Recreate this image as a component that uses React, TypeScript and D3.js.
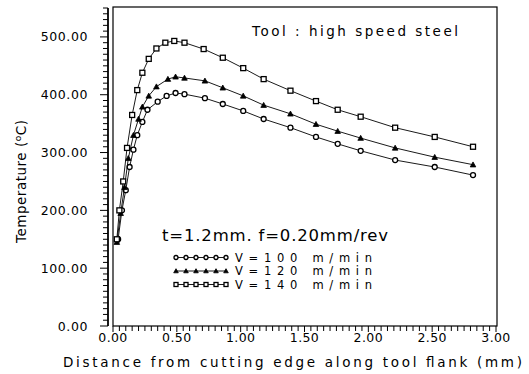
import React from "react";
import * as d3 from "d3";

const W = 529;
const H = 374;

// Data
const xV100 = [0.04, 0.07, 0.10, 0.13, 0.16, 0.19, 0.23, 0.27, 0.35, 0.42, 0.49, 0.56, 0.72, 0.86, 1.02, 1.18, 1.39, 1.59, 1.76, 1.94, 2.21, 2.52, 2.82];
const yV100 = [150, 200, 235, 275, 305, 330, 353, 374, 388, 398, 403, 401, 394, 384, 372, 358, 343, 327, 315, 303, 287, 275, 261];

const xV120 = [0.03, 0.06, 0.09, 0.12, 0.16, 0.20, 0.23, 0.28, 0.34, 0.43, 0.49, 0.56, 0.72, 0.86, 1.02, 1.18, 1.39, 1.59, 1.76, 1.94, 2.21, 2.52, 2.82];
const yV120 = [145, 195, 240, 290, 330, 358, 379, 398, 414, 427, 431, 429, 424, 412, 398, 382, 367, 349, 337, 325, 308, 292, 279];

const xV140 = [0.03, 0.05, 0.08, 0.11, 0.15, 0.19, 0.23, 0.28, 0.34, 0.41, 0.48, 0.56, 0.71, 0.86, 1.02, 1.18, 1.39, 1.59, 1.76, 1.94, 2.21, 2.52, 2.82];
const yV140 = [150, 200, 250, 308, 365, 408, 438, 462, 480, 490, 493, 490, 479, 464, 446, 427, 407, 389, 374, 362, 343, 327, 310];

const seriesNames = ["V=100  m/min", "V=120  m/min", "V=140  m/min"];
const seriesMarkers = ["circle", "triangle", "square"];

const xTickValues = [0, 0.5, 1, 1.5, 2, 2.5, 3];
const xTickLabels = ["0.00", "0.50", "1.00", "1.50", "2.00", "2.50", "3.00"];
const yTickValues = [0, 100, 200, 300, 400, 500];
const yTickLabels = ["0.00", "100.00", "200.00", "300.00", "400.00", "500.00"];

const titleText = "Tool : high speed steel";
const noteText = "t=1.2mm. f=0.20mm/rev";
const xTitle = "Distance from cutting edge along tool flank (mm)";

const FONT = "'DejaVu Sans', 'Liberation Sans', sans-serif";

function Marker({ kind, cx, cy, s }: { kind: string; cx: number; cy: number; s: number }) {
  if (kind === "circle") {
    return <circle cx={cx} cy={cy} r={s / 2} fill="white" stroke="black" strokeWidth={1.3} />;
  }
  if (kind === "triangle") {
    const h = s * 0.9;
    return (
      <path
        d={`M${cx},${cy - h / 2 - 0.5}L${cx + s / 2 + 0.3},${cy + h / 2}L${cx - s / 2 - 0.3},${cy + h / 2}Z`}
        fill="black"
        stroke="black"
        strokeWidth={0.8}
      />
    );
  }
  return (
    <rect x={cx - s / 2} y={cy - s / 2} width={s} height={s} fill="white" stroke="black" strokeWidth={1.3} />
  );
}

export default function App() {
  const x = d3.scaleLinear().domain([0, 3]).range([113, 496]);
  const y = d3.scaleLinear().domain([0, 550]).range([326, 8]);

  const series = [
    { xs: xV100, ys: yV100 },
    { xs: xV120, ys: yV120 },
    { xs: xV140, ys: yV140 },
  ];

  const line = d3
    .line<[number, number]>()
    .x((d) => x(d[0]))
    .y((d) => y(d[1]));

  const yMinor = d3.range(0, 551, 10);
  const xMinor = d3.range(0, 3.001, 0.05);

  const axisX = 108;
  const frameLeft = x(0);
  const frameRight = 497;
  const frameTop = 7;
  const frameBottom = y(0);

  return (
    <svg
      width={W}
      height={H}
      viewBox={`0 0 ${W} ${H}`}
      style={{ position: "absolute", left: 0, top: 0, background: "white" }}
      fontFamily={FONT}
    >
      <rect x={0} y={0} width={W} height={H} fill="white" />

      {/* frame */}
      <rect
        x={frameLeft}
        y={frameTop}
        width={frameRight - frameLeft}
        height={frameBottom - frameTop}
        fill="none"
        stroke="black"
        strokeWidth={1.2}
      />

      {/* y axis line with ticks */}
      <line x1={axisX} x2={axisX} y1={y(550)} y2={y(0)} stroke="black" strokeWidth={1.8} />
      {yMinor.map((v) => {
        const major = v % 100 === 0;
        return (
          <line
            key={"ym" + v}
            x1={axisX - (major ? 8 : 5)}
            x2={axisX}
            y1={y(v)}
            y2={y(v)}
            stroke="black"
            strokeWidth={1}
          />
        );
      })}
      {yTickValues.map((v, i) => (
        <text
          key={"yl" + v}
          x={88}
          y={y(v)}
          textAnchor="end"
          dominantBaseline="central"
          fontSize={12.5}
          letterSpacing={0.6}
        >
          {yTickLabels[i]}
        </text>
      ))}

      {/* x axis ticks */}
      {xMinor.map((v, i) => {
        const major = i % 10 === 0;
        return (
          <line
            key={"xm" + i}
            x1={x(v)}
            x2={x(v)}
            y1={frameBottom}
            y2={frameBottom + (major ? 6 : 5)}
            stroke="black"
            strokeWidth={1}
          />
        );
      })}
      {xTickValues.map((v, i) => (
        <text
          key={"xl" + v}
          x={x(v)}
          y={337}
          textAnchor="middle"
          dominantBaseline="central"
          fontSize={12.5}
          letterSpacing={0.4}
        >
          {xTickLabels[i]}
        </text>
      ))}

      {/* axis titles */}
      <text x={63} y={367} fontSize={13.5} textLength={459} lengthAdjust="spacing">
        {xTitle}
      </text>
      <text
        transform={`translate(26,243) rotate(-90)`}
        fontSize={13.5}
        textLength={123}
        lengthAdjust="spacing"
      >
        Temperature (<tspan dy={-5} fontSize={9}>o</tspan>
        <tspan dy={5}>C)</tspan>
      </text>

      {/* title and note */}
      <text x={252} y={36} fontSize={13.5} textLength={206} lengthAdjust="spacing">
        {titleText}
      </text>
      <text x={162} y={241} fontSize={16.5} textLength={226} lengthAdjust="spacing">
        {noteText}
      </text>

      {/* series */}
      {series.map((s, si) => {
        const pts: [number, number][] = s.xs.map((xv, i) => [xv, s.ys[i]]);
        return (
          <g key={"s" + si}>
            <path d={line(pts) || ""} fill="none" stroke="black" strokeWidth={0.9} />
            {pts.map((p, i) => (
              <Marker key={i} kind={seriesMarkers[si]} cx={x(p[0])} cy={y(p[1])} s={5} />
            ))}
          </g>
        );
      })}

      {/* legend */}
      {seriesNames.map((name, si) => {
        const ly = 257.5 + si * 13.5;
        const mx = d3.range(0, 6).map((k) => 176 + k * 10);
        return (
          <g key={"lg" + si}>
            <line x1={176} x2={226} y1={ly} y2={ly} stroke="black" strokeWidth={0.9} />
            {mx.map((m, k) => (
              <Marker key={k} kind={seriesMarkers[si]} cx={m} cy={ly} s={4} />
            ))}
            <text x={235} y={ly} dominantBaseline="central" fontSize={11.5} textLength={137} lengthAdjust="spacing">
              {name}
            </text>
          </g>
        );
      })}
    </svg>
  );
}
